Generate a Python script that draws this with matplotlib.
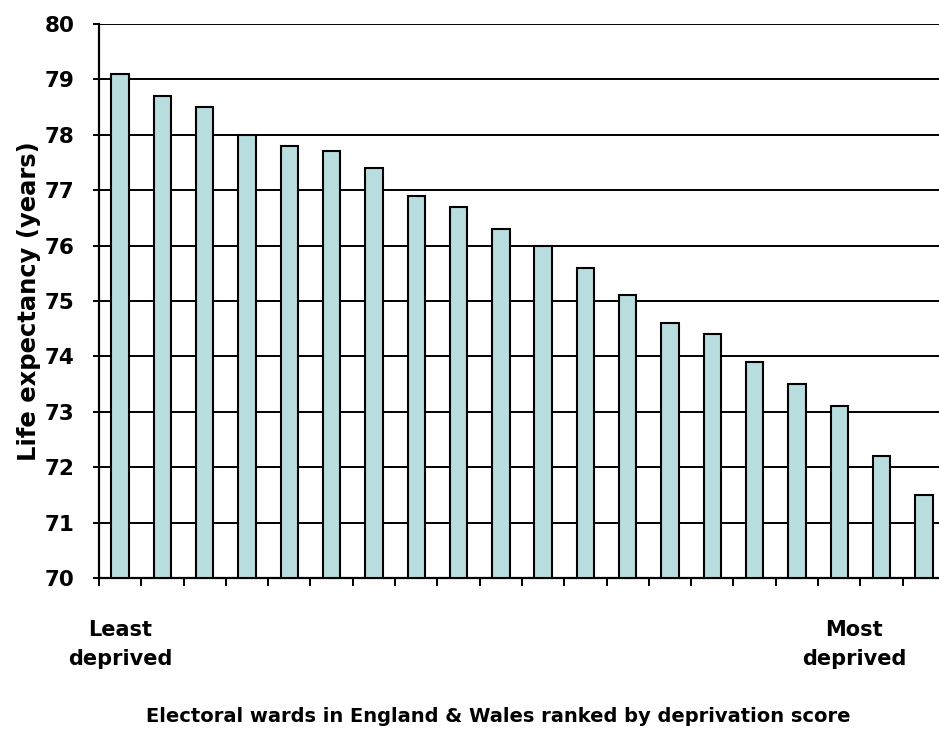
import matplotlib
matplotlib.use("Agg")
import matplotlib.pyplot as plt
import numpy as np

plt.rcParams['font.family'] = ['DejaVu Sans']

wards = list(range(1, 21))
life_expectancy = [79.1, 78.7, 78.5, 78.0, 77.8, 77.7, 77.4, 76.9, 76.7, 76.3,
                   76.0, 75.6, 75.1, 74.6, 74.4, 73.9, 73.5, 73.1, 72.2, 71.5]
y_ticks = [70, 71, 72, 73, 74, 75, 76, 77, 78, 79, 80]

fig = plt.figure(figsize=(9.39, 7.30), dpi=100)
ax = fig.add_axes([0.1054, 0.2082, 0.901, 0.759])

x = np.arange(len(wards))
ax.bar(x, [v - 70 for v in life_expectancy], bottom=70, width=0.41,
       color='#B7DDDF', edgecolor='black', linewidth=1.5, zorder=3)

ax.set_xlim(-0.5, len(wards) - 0.5)
ax.set_ylim(70, 80)
ax.set_yticks(y_ticks)
ax.set_yticklabels([str(t) for t in y_ticks], fontsize=15.5, fontweight='bold')
ax.set_xticks(np.arange(len(wards) + 1) - 0.5)
ax.set_xticklabels([])

ax.yaxis.grid(True, color='black', linewidth=1.4, zorder=0)
ax.set_axisbelow(True)

for s in ['top', 'right']:
    ax.spines[s].set_visible(False)
for s in ['left', 'bottom']:
    ax.spines[s].set_linewidth(1.6)
    ax.spines[s].set_color('black')

ax.tick_params(axis='y', direction='out', length=4.5, width=1.4, pad=13)
ax.tick_params(axis='x', direction='out', length=6, width=1.4)

ax.set_ylabel('Life expectancy (years)', fontsize=17.5, fontweight='bold')
ax.yaxis.set_label_coords(-0.068, 0.5)

ax.text(0, -0.075, 'Least\ndeprived', transform=ax.get_xaxis_transform(),
        ha='center', va='top', fontsize=15, fontweight='bold', linespacing=1.6)
ax.text(17.35, -0.075, 'Most\ndeprived', transform=ax.get_xaxis_transform(),
        ha='center', va='top', fontsize=15, fontweight='bold', linespacing=1.6)

fig.text(0.531, 0.018, 'Electoral wards in England & Wales ranked by deprivation score',
         ha='center', va='center', fontsize=14, fontweight='bold')

fig.savefig('out.png', dpi=100, facecolor='white')
